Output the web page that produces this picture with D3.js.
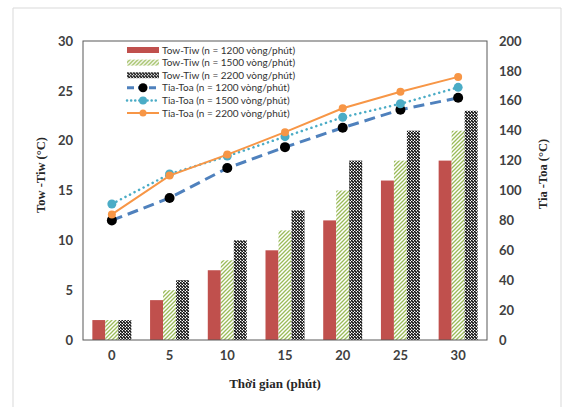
<!DOCTYPE html>
<html>
<head>
<meta charset="utf-8">
<script src="https://cdn.jsdelivr.net/npm/d3@7"></script>
<style>
  body { margin: 0; background: #fff; }
  text { font-family: Lato, "Open Sans", sans-serif; }
</style>
</head>
<body>
<div class="chart"></div>
<script>
// ---------- data
var categories = [0, 5, 10, 15, 20, 25, 30];

var barSeriesNames = [
  "Tow-Tiw (n = 1200 vòng/phút)",
  "Tow-Tiw (n = 1500 vòng/phút)",
  "Tow-Tiw (n = 2200 vòng/phút)"
];
var bar1200 = [2, 4, 7, 9, 12, 16, 18];
var bar1500 = [2, 5, 8, 11, 15, 18, 21];
var bar2200 = [2, 6, 10, 13, 18, 21, 23];

var lineSeriesNames = [
  "Tia-Toa (n = 1200 vòng/phút)",
  "Tia-Toa (n = 1500 vòng/phút)",
  "Tia-Toa (n = 2200 vòng/phút)"
];
var line1200 = [80, 95, 115, 129, 142, 154, 162];
var line1500 = [91, 111, 123, 136, 149, 158, 169];
var line2200 = [84, 110, 124, 139, 155, 166, 176];

var leftTicks = [0, 5, 10, 15, 20, 25, 30];
var rightTicks = [0, 20, 40, 60, 80, 100, 120, 140, 160, 180, 200];

// ---------- layout
var width = 568, height = 407;
var plot = { left: 83, top: 41, right: 487, bottom: 340 };

var svg = d3.select("div.chart").append("svg")
  .attr("width", width).attr("height", height);

var defs = svg.append("defs");

// green upward diagonal hatch
var pg = defs.append("pattern").attr("id", "hatchGreen")
  .attr("patternUnits", "userSpaceOnUse").attr("width", 4).attr("height", 4);
pg.append("rect").attr("width", 4).attr("height", 4).attr("fill", "#fff");
pg.append("path").attr("d", "M-1,1 l2,-2 M0,4 l4,-4 M3,5 l2,-2")
  .attr("stroke", "#9BBB59").attr("stroke-width", 1.3);

// dark downward diagonal hatch
var pb = defs.append("pattern").attr("id", "hatchBlack")
  .attr("patternUnits", "userSpaceOnUse").attr("width", 3).attr("height", 3);
pb.append("rect").attr("width", 3).attr("height", 3).attr("fill", "#fff");
pb.append("path").attr("d", "M-1,-1 l2,2 M0,0 l3,3 M2,2 l2,2")
  .attr("stroke", "#111").attr("stroke-width", 1.6);

// outer chart border
svg.append("path")
  .attr("d", `M13,${height} V8 H561 V${height}`)
  .attr("fill", "none").attr("stroke", "#d9d9d9").attr("stroke-width", 1);

// ---------- scales
var x = d3.scaleBand().domain(categories).range([plot.left, plot.right]);
var yL = d3.scaleLinear().domain([0, 30]).range([plot.bottom, plot.top]);
var yR = d3.scaleLinear().domain([0, 200]).range([plot.bottom, plot.top]);

var barW = 13;
var barSeries = [
  { values: bar1200, fill: "#C0504D" },
  { values: bar1500, fill: "url(#hatchGreen)" },
  { values: bar2200, fill: "url(#hatchBlack)" }
];

// ---------- bars
barSeries.forEach(function(s, si) {
  svg.append("g").selectAll("rect")
    .data(s.values)
    .enter().append("rect")
    .attr("x", (d, i) => x(categories[i]) + x.bandwidth() / 2 - 1.5 * barW + si * barW)
    .attr("y", d => yL(d))
    .attr("width", barW)
    .attr("height", d => plot.bottom - yL(d))
    .attr("fill", s.fill);
});

// ---------- frame
svg.append("rect")
  .attr("x", plot.left).attr("y", plot.top)
  .attr("width", plot.right - plot.left).attr("height", plot.bottom - plot.top)
  .attr("fill", "none").attr("stroke", "#595959").attr("stroke-width", 1);

// ---------- lines
var lineSeries = [
  { values: line1200, stroke: "#4F81BD", width: 3, dash: "11,6", cap: "butt", marker: "#000", r: 5 },
  { values: line1500, stroke: "#4BACC6", width: 2.5, dash: "0.1,5", cap: "round", marker: "#4BACC6", r: 4.5 },
  { values: line2200, stroke: "#F79646", width: 2, dash: null, cap: "butt", marker: "#F79646", r: 4 }
];

var lineGen = d3.line()
  .x((d, i) => x(categories[i]) + x.bandwidth() / 2)
  .y(d => yR(d));

lineSeries.forEach(function(s) {
  svg.append("path")
    .datum(s.values)
    .attr("d", lineGen)
    .attr("fill", "none")
    .attr("stroke", s.stroke)
    .attr("stroke-width", s.width)
    .attr("stroke-linecap", s.cap)
    .attr("stroke-dasharray", s.dash);
  svg.append("g").selectAll("circle")
    .data(s.values)
    .enter().append("circle")
    .attr("cx", (d, i) => x(categories[i]) + x.bandwidth() / 2)
    .attr("cy", d => yR(d))
    .attr("r", s.r)
    .attr("fill", s.marker);
});

// ---------- axes
var tickStyle = g => {
  g.select(".domain").remove();
  g.selectAll(".tick line").remove();
  g.selectAll("text")
    .attr("font-family", "Lato, sans-serif")
    .attr("font-size", 13).attr("font-weight", "bold").attr("fill", "#404040");
};

svg.append("g")
  .attr("transform", `translate(${plot.left - 10},0)`)
  .call(d3.axisLeft(yL).tickValues(leftTicks).tickSize(0).tickPadding(0))
  .call(tickStyle);

svg.append("g")
  .attr("transform", `translate(${plot.right + 12},0)`)
  .call(d3.axisRight(yR).tickValues(rightTicks).tickSize(0).tickPadding(0))
  .call(tickStyle);

svg.append("g")
  .attr("transform", `translate(0,${plot.bottom + 11})`)
  .call(d3.axisBottom(x).tickSize(0).tickPadding(0))
  .call(tickStyle);

// ---------- axis titles
svg.append("text")
  .attr("transform", "translate(45,175) rotate(-90)")
  .attr("text-anchor", "middle")
  .style("font-family", "'Liberation Serif', serif")
  .attr("font-size", 12.5).attr("font-weight", "bold").attr("fill", "#262626")
  .text("Tow -Tiw (°C)");

svg.append("text")
  .attr("transform", "translate(547,174) rotate(-90)")
  .attr("text-anchor", "middle")
  .style("font-family", "'Liberation Serif', serif")
  .attr("font-size", 12.5).attr("font-weight", "bold").attr("fill", "#262626")
  .text("Tia -Toa (°C)");

svg.append("text")
  .attr("x", 275).attr("y", 388)
  .attr("text-anchor", "middle")
  .style("font-family", "'Liberation Serif', serif")
  .attr("font-size", 13).attr("font-weight", "bold").attr("fill", "#262626")
  .text("Thời gian (phút)");

// ---------- legend
var legend = svg.append("g").attr("transform", "translate(127,50)");
var rowH = 12.6, swW = 32;

barSeries.forEach(function(s, i) {
  var row = legend.append("g").attr("transform", `translate(0,${i * rowH})`);
  row.append("rect").attr("x", 0).attr("y", -3).attr("width", swW).attr("height", 6)
    .attr("fill", s.fill);
  row.append("text").attr("x", swW + 3).attr("y", 0).attr("dy", "0.35em")
    .attr("font-size", 10).attr("fill", "#333").text(barSeriesNames[i]);
});

lineSeries.forEach(function(s, i) {
  var row = legend.append("g").attr("transform", `translate(0,${(i + 3) * rowH})`);
  row.append("line").attr("x1", 0).attr("x2", swW).attr("y1", 0).attr("y2", 0)
    .attr("stroke", s.stroke).attr("stroke-width", s.width)
    .attr("stroke-linecap", s.cap)
    .attr("stroke-dasharray", s.dash ? (s.cap === "round" ? "0.1,4" : "7,4") : null);
  row.append("circle").attr("cx", swW / 2).attr("cy", 0).attr("r", s.r - 0.5)
    .attr("fill", s.marker);
  row.append("text").attr("x", swW + 3).attr("y", 0).attr("dy", "0.35em")
    .attr("font-size", 10).attr("fill", "#333").text(lineSeriesNames[i]);
});
</script>
</body>
</html>
